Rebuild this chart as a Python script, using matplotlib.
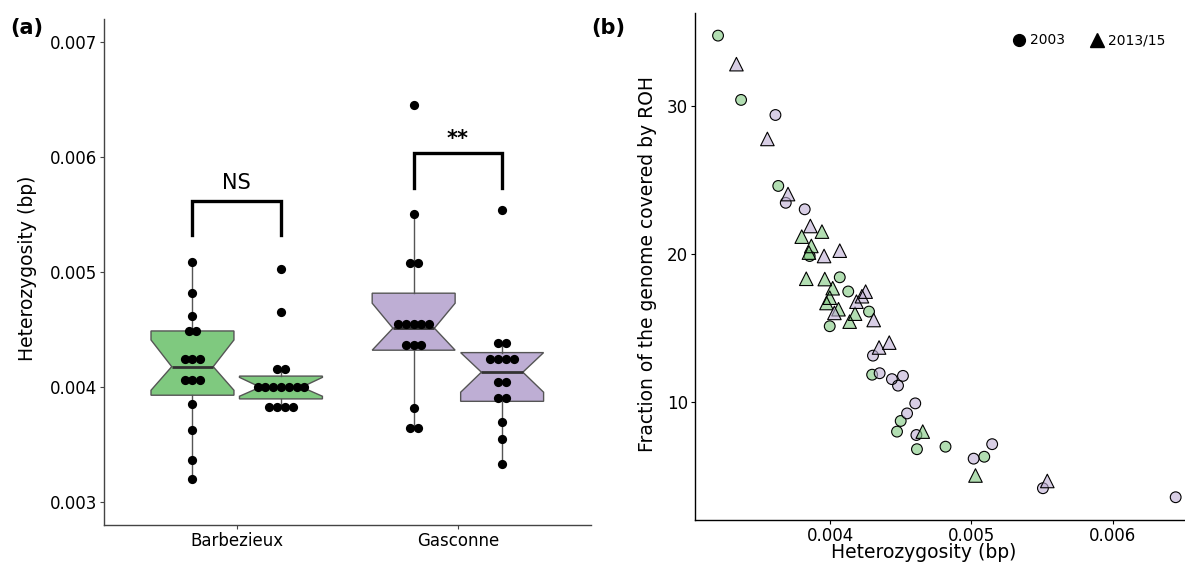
import matplotlib
matplotlib.use("Agg")
import matplotlib.pyplot as plt
from matplotlib.lines import Line2D
import numpy as np

plt.rcParams['font.family'] = ['DejaVu Sans']

# ---------------- Panel (a) data ----------------
breeds = ["Barbezieux", "Gasconne"]
periods = ["2003", "2013/15"]
box_colors = ["#7FC97F", "#BEAED4"]

barb_2003 = [0.005090, 0.004815, 0.004617, 0.004487, 0.004487, 0.004241, 0.004241, 0.004241,
             0.004063, 0.004063, 0.004063, 0.003858, 0.003632, 0.003368, 0.003203]
barb_2013 = [0.005029, 0.004650, 0.004157, 0.004157, 0.004000, 0.004000, 0.004000, 0.004000,
             0.004000, 0.004000, 0.004000, 0.003829, 0.003829, 0.003829, 0.003829]
gasc_2003 = [0.006450, 0.005507, 0.005081, 0.005081, 0.004548, 0.004548, 0.004548, 0.004548,
             0.004548, 0.004368, 0.004368, 0.004368, 0.003820, 0.003646, 0.003646]
gasc_2013 = [0.005537, 0.004380, 0.004380, 0.004246, 0.004246, 0.004246, 0.004246, 0.004046,
             0.004046, 0.003907, 0.003907, 0.003698, 0.003554, 0.003336]

# box statistics (Barb 2003, Barb 2013/15, Gasc 2003, Gasc 2013/15)
box_q1 = [0.003930, 0.003898, 0.004321, 0.003877]
box_med = [0.004178, 0.004000, 0.004512, 0.004130]
box_q3 = [0.004488, 0.004096, 0.004816, 0.004300]
box_cilo = [0.003973, 0.003921, 0.004321, 0.003956]
box_cihi = [0.004410, 0.004085, 0.004729, 0.004300]
box_whislo = [0.003203, 0.003829, 0.003646, 0.003336]
box_whishi = [0.005090, 0.004157, 0.005507, 0.004380]

sig_labels = ["NS", "**"]
sig_bracket_top = [0.005617, 0.006032]
sig_bracket_bottom = [0.005322, 0.005733]

# ---------------- Panel (b) data ----------------
b03_het = [0.003208, 0.003371, 0.003634, 0.003856, 0.004069, 0.004129, 0.004276, 0.003998,
           0.004298, 0.004500, 0.004474, 0.004615, 0.004817, 0.005091]
b03_roh = [34.79, 30.44, 24.62, 19.88, 18.44, 17.48, 16.12, 15.13, 11.85, 8.72, 8.00, 6.81, 6.98, 6.30]
b13_het = [0.003943, 0.003800, 0.003868, 0.003851, 0.003832, 0.003963, 0.004019, 0.003998,
           0.003975, 0.004060, 0.004177, 0.004139, 0.004656, 0.005029]
b13_roh = [21.53, 21.19, 20.56, 20.11, 18.34, 18.32, 17.70, 17.06, 16.70, 16.28, 15.98, 15.44, 8.00, 5.03]
g03_het = [0.003614, 0.003687, 0.003821, 0.004304, 0.004351, 0.004438, 0.004516, 0.004481,
           0.004603, 0.004545, 0.004611, 0.005147, 0.005016, 0.005506, 0.006445]
g03_roh = [29.42, 23.48, 23.04, 13.14, 11.95, 11.55, 11.77, 11.11, 9.91, 9.23, 7.77, 7.15, 6.17, 4.17, 3.56]
g13_het = [0.003338, 0.003557, 0.003703, 0.003861, 0.003958, 0.004069, 0.004252, 0.004226,
           0.004187, 0.004031, 0.004309, 0.004419, 0.004347, 0.005537]
g13_roh = [32.86, 27.80, 24.07, 21.91, 19.88, 20.24, 17.47, 17.16, 16.79, 16.03, 15.55, 14.02, 13.69, 4.66]

# ---------------- Figure ----------------
W, H = 1185, 566
fig = plt.figure(figsize=(W / 100, H / 100), dpi=100)

def fr(x0, y0, x1, y1):
    return [x0 / W, 1 - y1 / H, (x1 - x0) / W, (y1 - y0) / H]

axa = fig.add_axes(fr(104, 19, 590.6, 525))
axb = fig.add_axes(fr(695, 13.3, 1185, 520))

# ---- Panel (a)
groups = [barb_2003, barb_2013, gasc_2003, gasc_2013]
dodge = 0.2
positions = [1 - dodge, 1 + dodge, 2 - dodge, 2 + dodge]
fills = [box_colors[0], box_colors[0], box_colors[1], box_colors[1]]

stats = []
for i in range(4):
    stats.append(dict(med=box_med[i], q1=box_q1[i], q3=box_q3[i],
                      whislo=box_whislo[i], whishi=box_whishi[i],
                      cilo=box_cilo[i], cihi=box_cihi[i], fliers=[]))
edge = "#555555"
bp = axa.bxp(stats, positions=positions, widths=0.375, patch_artist=True,
             shownotches=True, showcaps=False, showfliers=False,
             boxprops=dict(edgecolor=edge, linewidth=1.0),
             whiskerprops=dict(color=edge, linewidth=1.0),
             medianprops=dict(color="#333333", linewidth=2.0))
for patch, c in zip(bp['boxes'], fills):
    patch.set_facecolor(c)

# dot plot (centered stacks)
step = 0.0353
for pos, vals in zip(positions, groups):
    vals = np.array(vals)
    for v in np.unique(vals):
        n = int(np.sum(np.isclose(vals, v)))
        offs = (np.arange(n) - (n - 1) / 2) * step
        axa.scatter(pos + offs, [v] * n, s=44, color="black", zorder=5, linewidths=0)

# significance brackets
for k, lab in enumerate(sig_labels):
    xl, xr = positions[2 * k], positions[2 * k + 1]
    axa.plot([xl, xl, xr, xr], [sig_bracket_bottom[k], sig_bracket_top[k], sig_bracket_top[k], sig_bracket_bottom[k]],
             color="black", linewidth=2.4, solid_joinstyle='miter', zorder=6)
    if lab == "NS":
        axa.text((xl + xr) / 2, sig_bracket_top[k] + 0.00007, lab, ha='center', va='bottom', fontsize=15)
    else:
        axa.text((xl + xr) / 2, sig_bracket_top[k] + 0.00004, lab, ha='center', va='bottom', fontsize=15, fontweight='bold')

axa.set_xlim(0.4, 2.6)
axa.set_ylim(0.002803, 0.007197)
axa.set_xticks([1, 2])
axa.set_xticklabels(breeds)
axa.set_yticks([0.003, 0.004, 0.005, 0.006, 0.007])
axa.set_yticklabels(["0.003", "0.004", "0.005", "0.006", "0.007"])
for s in ["top", "right"]:
    axa.spines[s].set_visible(False)
for s in ["left", "bottom"]:
    axa.spines[s].set_color("#444444")
    axa.spines[s].set_linewidth(1.0)
axa.tick_params(axis='both', labelsize=12, length=3, width=0.8, color="#444444", pad=2, labelcolor="black")
axa.set_ylabel("Heterozygosity (bp)", fontsize=13.5)
axa.yaxis.set_label_coords(-0.137, 0.507)

# ---- Panel (b)
fill_alpha = 0.6
green_c, purple_c = box_colors
axb.scatter(b03_het, b03_roh, marker='o', s=60, facecolor=green_c, alpha=fill_alpha, edgecolor='none', zorder=3)
axb.scatter(b03_het, b03_roh, marker='o', s=60, facecolor='none', edgecolor='black', linewidths=0.8, zorder=3)
axb.scatter(g03_het, g03_roh, marker='o', s=60, facecolor=purple_c, alpha=fill_alpha, edgecolor='none', zorder=3)
axb.scatter(g03_het, g03_roh, marker='o', s=60, facecolor='none', edgecolor='black', linewidths=0.8, zorder=3)
axb.scatter(b13_het, b13_roh, marker='^', s=95, facecolor=green_c, alpha=fill_alpha, edgecolor='none', zorder=4)
axb.scatter(b13_het, b13_roh, marker='^', s=95, facecolor='none', edgecolor='black', linewidths=0.8, zorder=4)
axb.scatter(g13_het, g13_roh, marker='^', s=95, facecolor=purple_c, alpha=fill_alpha, edgecolor='none', zorder=4)
axb.scatter(g13_het, g13_roh, marker='^', s=95, facecolor='none', edgecolor='black', linewidths=0.8, zorder=4)

axb.set_xlim(0.003045, 0.006511)
axb.set_ylim(2.02, 36.3)
axb.set_xticks([0.004, 0.005, 0.006])
axb.set_xticklabels(["0.004", "0.005", "0.006"])
axb.set_yticks([10, 20, 30])
for s in ["top", "right"]:
    axb.spines[s].set_visible(False)
for s in ["left", "bottom"]:
    axb.spines[s].set_color("black")
    axb.spines[s].set_linewidth(1.0)
axb.tick_params(axis='both', labelsize=12, length=3, width=0.8, pad=2)
axb.set_xlabel("Heterozygosity (bp)", fontsize=13.5)
axb.xaxis.set_label_coords(0.467, -0.045)
axb.set_ylabel("Fraction of the genome covered by ROH", fontsize=13.5)
axb.yaxis.set_label_coords(-0.078, 0.505)

handles = [Line2D([], [], marker='o', color='black', linestyle='none', markersize=8.5),
           Line2D([], [], marker='^', color='black', linestyle='none', markersize=10.5)]
axb.legend(handles, periods, ncol=2, frameon=False, fontsize=10, loc='upper right',
           bbox_to_anchor=(0.985, 0.985), handletextpad=0.3, columnspacing=1.8, handlelength=1.0)

fig.text(10 / W, 1 - 28 / H, "(a)", fontsize=15, fontweight='bold', va='center', ha='left')
fig.text(591 / W, 1 - 28 / H, "(b)", fontsize=15, fontweight='bold', va='center', ha='left')

fig.savefig("out.png", dpi=100)
